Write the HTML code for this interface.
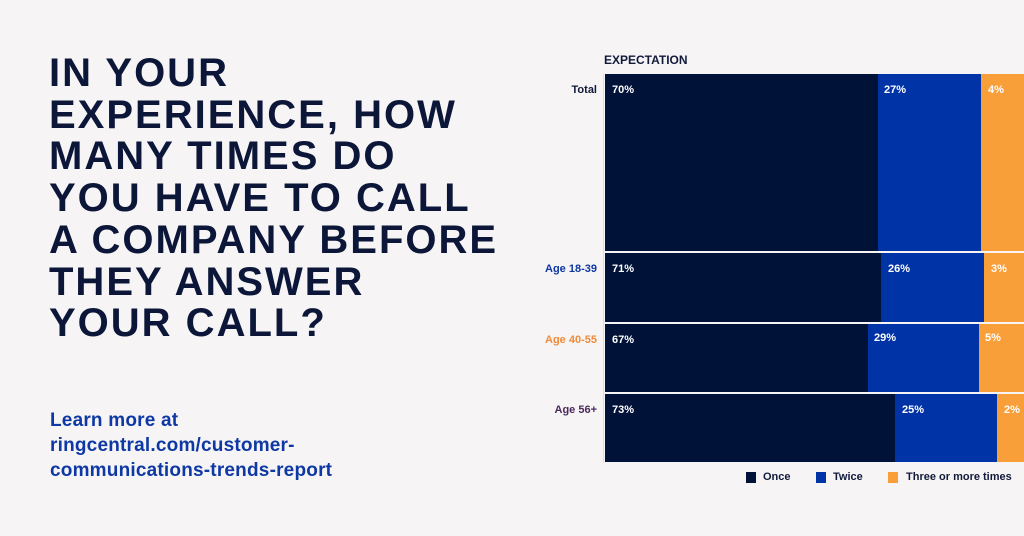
<!DOCTYPE html>
<html><head><meta charset="utf-8"><style>
*{margin:0;padding:0;box-sizing:border-box}
body{width:1024px;height:536px;background:#f6f4f5;position:relative;overflow:hidden;font-family:"Liberation Sans",sans-serif}
.t{position:absolute;left:49px;top:53px;font-size:40px;font-weight:bold;line-height:41.7px;color:#0b1638;letter-spacing:2px}
.l{position:absolute;left:50px;top:408px;font-size:19px;font-weight:bold;line-height:25px;color:#0e38a3;letter-spacing:0.2px}
.a{position:absolute;}
.b{position:absolute;}
.lab{position:absolute;font-size:11px;font-weight:bold;color:#fff}
.rl{position:absolute;right:427px;font-size:11px;font-weight:bold;text-align:right}
.lg{position:absolute;top:471px;font-size:11px;font-weight:bold;color:#111a3a}
.sq{position:absolute;top:472px;width:10px;height:11px}
</style></head><body>
<div class="t">IN YOUR<br>EXPERIENCE, HOW<br>MANY TIMES DO<br>YOU HAVE TO CALL<br>A COMPANY BEFORE<br>THEY ANSWER<br>YOUR CALL?</div>
<div class="l">Learn more at<br>ringcentral.com/customer-<br>communications-trends-report</div>
<div class="a" style="left:604px;top:53px;font-size:12px;font-weight:bold;color:#111a3a">EXPECTATION</div>
<div class="a" style="left:603px;top:74px;width:1px;height:389px;background:#ddd"></div>

<div class="b" style="left:605px;top:74px;width:273px;height:177px;background:#001238"></div>
<div class="b" style="left:878px;top:74px;width:103px;height:177px;background:#0033a6"></div>
<div class="b" style="left:981px;top:74px;width:43px;height:177px;background:#f99f3a"></div>
<div class="rl" style="top:84px;color:#111a3a">Total</div>
<div class="lab" style="left:612px;top:84px">70%</div>
<div class="lab" style="left:884px;top:84px">27%</div>
<div class="lab" style="left:988px;top:84px">4%</div>

<div class="b" style="left:605px;top:253px;width:276px;height:69px;background:#001238"></div>
<div class="b" style="left:881px;top:253px;width:103px;height:69px;background:#0033a6"></div>
<div class="b" style="left:984px;top:253px;width:40px;height:69px;background:#f99f3a"></div>
<div class="rl" style="top:263px;color:#0e38a3">Age 18-39</div>
<div class="lab" style="left:612px;top:263px">71%</div>
<div class="lab" style="left:888px;top:263px">26%</div>
<div class="lab" style="left:991px;top:263px">3%</div>

<div class="b" style="left:605px;top:324px;width:263px;height:68px;background:#001238"></div>
<div class="b" style="left:868px;top:324px;width:111px;height:68px;background:#0033a6"></div>
<div class="b" style="left:979px;top:324px;width:45px;height:68px;background:#f99f3a"></div>
<div class="rl" style="top:334px;color:#f08a3a">Age 40-55</div>
<div class="lab" style="left:612px;top:334px">67%</div>
<div class="lab" style="left:874px;top:332px">29%</div>
<div class="lab" style="left:985px;top:332px">5%</div>

<div class="b" style="left:605px;top:394px;width:290px;height:68px;background:#001238"></div>
<div class="b" style="left:895px;top:394px;width:102px;height:68px;background:#0033a6"></div>
<div class="b" style="left:997px;top:394px;width:27px;height:68px;background:#f99f3a"></div>
<div class="rl" style="top:404px;color:#4b2a5c">Age 56+</div>
<div class="lab" style="left:612px;top:404px">73%</div>
<div class="lab" style="left:902px;top:404px">25%</div>
<div class="lab" style="left:1004px;top:404px">2%</div>

<div class="sq" style="left:746px;background:#001238"></div><div class="lg" style="left:763px">Once</div>
<div class="sq" style="left:816px;background:#0033a6"></div><div class="lg" style="left:833px">Twice</div>
<div class="sq" style="left:888px;background:#f99f3a"></div><div class="lg" style="left:906px">Three or more times</div>
</body></html>
